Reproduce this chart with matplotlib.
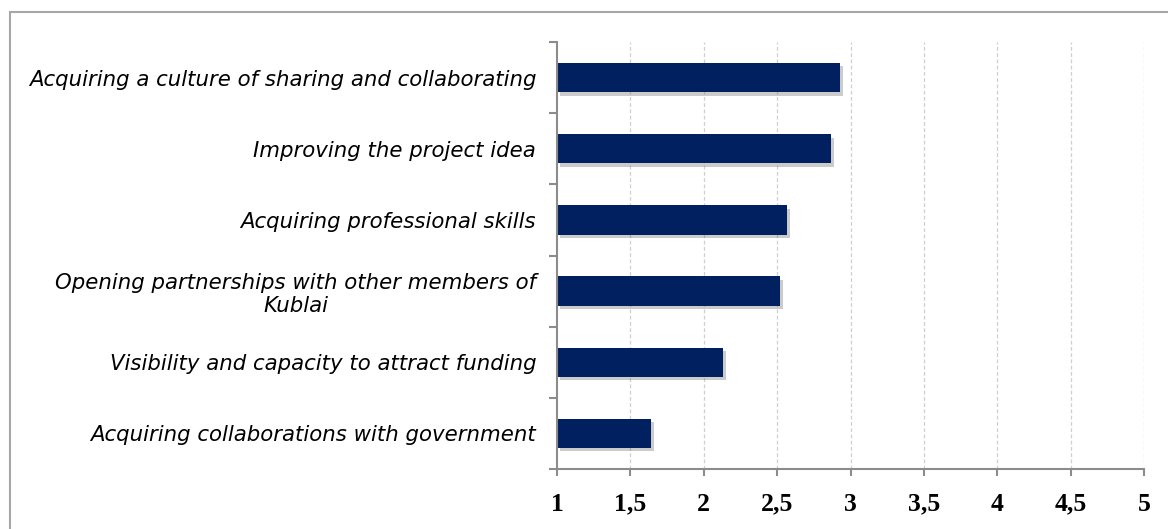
import matplotlib.pyplot as plt
import matplotlib.patheffects as pe
from matplotlib.patches import Rectangle

categories = [
    "Acquiring a culture of sharing and collaborating",
    "Improving the project idea",
    "Acquiring professional skills",
    "Opening partnerships with other members of\nKublai",
    "Visibility and capacity to attract funding",
    "Acquiring collaborations with government",
]
values = [2.93, 2.87, 2.57, 2.52, 2.13, 1.64]
xticks = [1, 1.5, 2, 2.5, 3, 3.5, 4, 4.5, 5]
xticklabels = ["1", "1,5", "2", "2,5", "3", "3,5", "4", "4,5", "5"]

bar_color = "#002060"
axis_color = "#8c8c8c"

fig = plt.figure(figsize=(11.68, 5.29), dpi=100)
ax = fig.add_axes([557 / 1168, 1 - 469 / 529, (1144 - 557) / 1168, (469 - 42) / 529])

# outer frame (only top and left edges visible in the picture)
fig.patches.append(Rectangle((10 / 1168, -0.5), 2, 1.5 - 12 / 529,
                             transform=fig.transFigure, fill=False,
                             edgecolor="#a6a6a6", linewidth=1.5))

ypos = list(range(len(categories)))
ax.barh(ypos, [v - 1 for v in values], left=1, height=0.41, color=bar_color,
        path_effects=[pe.SimplePatchShadow(offset=(2, -2.5), shadow_rgbFace="#555555", alpha=0.3),
                      pe.Normal()])

ax.set_xlim(1, 5)
ax.set_ylim(len(categories) - 0.5, -0.5)

ax.set_xticks(xticks)
ax.set_xticklabels(xticklabels, fontfamily="Liberation Serif", fontweight="bold", fontsize=18.5)
ax.tick_params(axis="x", length=5, width=1.5, color=axis_color, pad=12)

ax.set_yticks(ypos)
ax.set_yticklabels(categories, fontfamily="DejaVu Sans", fontstyle="italic", fontsize=15.3,
                   multialignment="center")
ax.tick_params(axis="y", which="major", length=0, pad=15)
ax.set_yticks([i - 0.5 for i in range(len(categories) + 1)], minor=True)
ax.tick_params(axis="y", which="minor", length=6, width=1.5, color=axis_color)

for x in xticks[1:]:
    ax.axvline(x, color="#cfcfcf", linestyle=(0, (3, 2)), linewidth=0.9, zorder=0)

for s in ["top", "right"]:
    ax.spines[s].set_visible(False)
for s in ["left", "bottom"]:
    ax.spines[s].set_color(axis_color)
    ax.spines[s].set_linewidth(1.5)

fig.savefig("out.png", dpi=100)
